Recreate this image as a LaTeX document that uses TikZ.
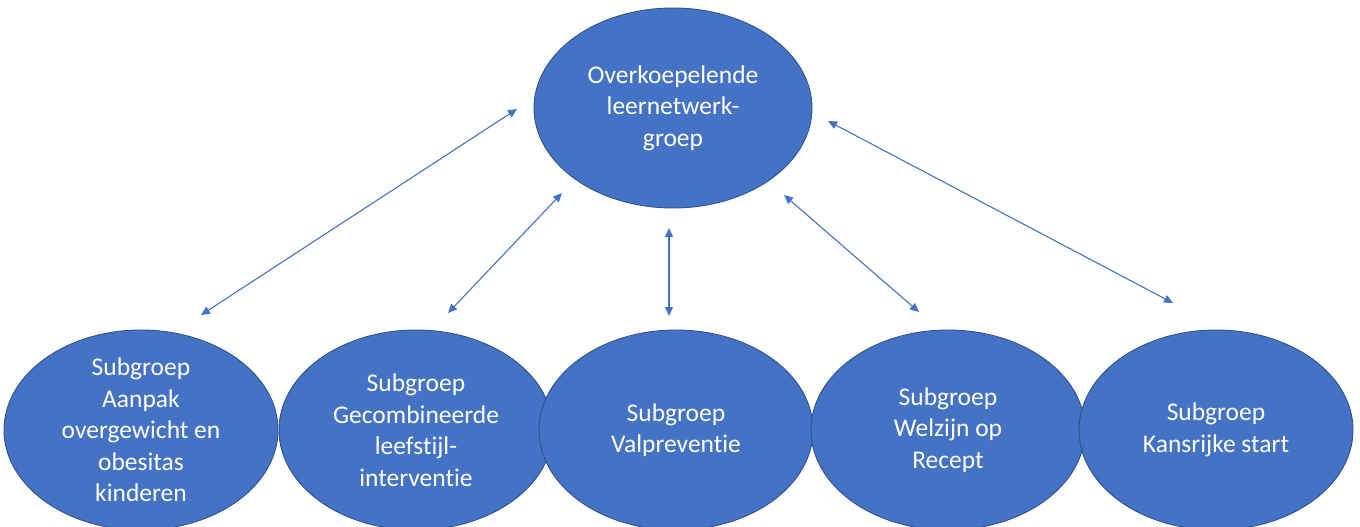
\documentclass[tikz,border=0pt]{standalone}
\usepackage{fontspec}
\setmainfont{Carlito}[Ligatures={NoCommon}]
\usetikzlibrary{shapes.geometric,arrows.meta}
\definecolor{ofill}{HTML}{4472C4}
\definecolor{oline}{HTML}{2F528F}
\definecolor{arr}{HTML}{4472C4}
\tikzset{
  ell/.style={ellipse, fill=ofill, draw=oline, line width=0.9pt, inner sep=0pt},
  topell/.style={ell, minimum width=278pt, minimum height=200pt},
  subell/.style={ell, minimum width=274pt, minimum height=200pt},
  txt/.style={text=white, align=center, font=\fontsize{25.5}{31.5}\selectfont, inner sep=0pt},
  link/.style={draw=arr, line width=1.1pt, {Triangle[length=9pt,width=8pt]}-{Triangle[length=9pt,width=8pt]}}
}
\begin{document}
\begin{tikzpicture}[x=1pt,y=-1pt]
\useasboundingbox (0,0) rectangle (1360,527);
% top node
\node[topell] (top) at (673,108) {};
\node[txt] (toptxt) at (top.center) {Overkoepelende\\leernetwerk-\\groep};
% sub nodes
\node[subell] (b1) at (141,430) {};
\node[txt] (b1txt) at (b1.center) {Subgroep\\Aanpak\\overgewicht en\\obesitas\\kinderen};
\node[subell] (b2) at (416,430) {};
\node[txt] (b2txt) at (b2.center) {Subgroep\\Gecombineerde\\leefstijl-\\interventie};
\node[subell] (b3) at (676,430) {};
\node[txt] (b3txt) at (b3.center) {Subgroep\\Valpreventie};
\node[subell] (b4) at (948,430) {};
\node[txt] (b4txt) at (b4.center) {Subgroep\\Welzijn op\\Recept};
\node[subell] (b5) at (1216,430) {};
\node[txt] (b5txt) at (b5.center) {Subgroep\\Kansrijke start};
% connector end points
\coordinate (a1s) at (201,315);
\coordinate (a1e) at (517,109);
\coordinate (a2s) at (448,313);
\coordinate (a2e) at (562,193);
\coordinate (a3s) at (669,316);
\coordinate (a3e) at (669,228);
\coordinate (a4s) at (919,312);
\coordinate (a4e) at (784,195);
\coordinate (a5s) at (1173,303);
\coordinate (a5e) at (828,121);
\draw[link] (a1s) -- (a1e);
\draw[link] (a2s) -- (a2e);
\draw[link] (a3s) -- (a3e);
\draw[link] (a4s) -- (a4e);
\draw[link] (a5s) -- (a5e);
\end{tikzpicture}
\end{document}
